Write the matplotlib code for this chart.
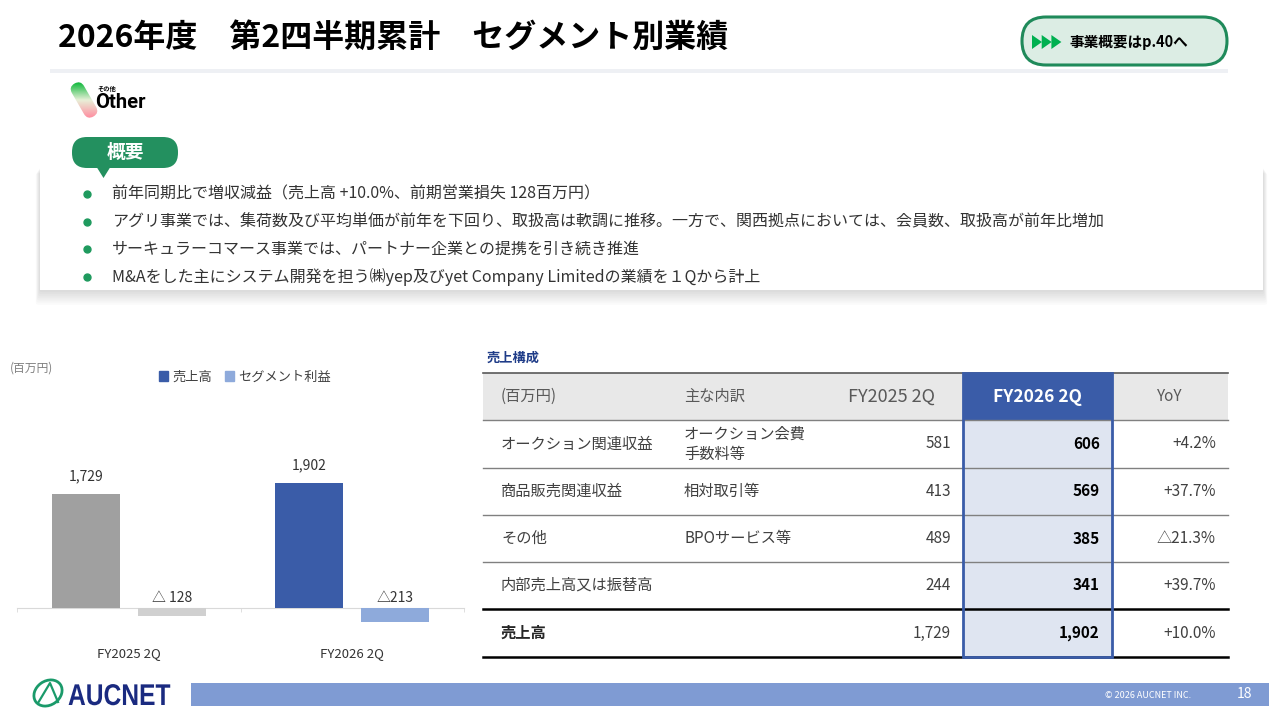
import matplotlib
matplotlib.use("Agg")
import matplotlib.pyplot as plt
import numpy as np
from matplotlib.patches import FancyBboxPatch, Rectangle, Polygon, Ellipse, Patch, PathPatch
from matplotlib.transforms import Affine2D
from matplotlib.textpath import TextPath
from matplotlib.font_manager import FontProperties

plt.rcParams['font.family'] = ['Noto Sans CJK JP', 'DejaVu Sans']

# ---- data ----
periods = ["FY2025 2Q", "FY2026 2Q"]
sales = [1729, 1902]
profit = [-128, -213]
profit_labels = ["△ 128", "△213"]
sales_colors = ["#a0a0a0", "#3a5ca8"]
profit_colors = ["#d0d0d0", "#8eaadb"]

bullets = [
    "前年同期比で増収減益（売上高 +10.0%、前期営業損失 128百万円）",
    "アグリ事業では、集荷数及び平均単価が前年を下回り、取扱高は軟調に推移。一方で、関西拠点においては、会員数、取扱高が前年比増加",
    "サーキュラーコマース事業では、パートナー企業との提携を引き続き推進",
    "M&Aをした主にシステム開発を担う㈱yep及びyet Company Limitedの業績を１Qから計上",
]

tbl_header = ["(百万円)", "主な内訳", "FY2025 2Q", "FY2026 2Q", "YoY"]
tbl_items = ["オークション関連収益", "商品販売関連収益", "その他", "内部売上高又は振替高", "売上高"]
tbl_detail = ["オークション会費\n手数料等", "相対取引等", "BPOサービス等", "", ""]
tbl_fy25 = [581, 413, 489, 244, 1729]
tbl_fy26 = [606, 569, 385, 341, 1902]
tbl_yoy = ["+4.2%", "+37.7%", "△21.3%", "+39.7%", "+10.0%"]

GREEN = "#23905f"
BLUE = "#3a5ca8"
TXT = "#404040"

fig = plt.figure(figsize=(12.8, 7.2), dpi=100)

# overlay in pixel coordinates
ov = fig.add_axes([0, 0, 1, 1])
ov.axis('off')

# title
ov.text(58, 38, "2026年度　第2四半期累計　セグメント別業績", fontsize=23, weight='bold',
        va='center', ha='left', color='black')
ov.add_patch(Rectangle((50, 69), 1178, 4, color="#eef0f4", lw=0))

# link button
ov.add_patch(FancyBboxPatch((1022, 17), 205, 48, boxstyle="round,pad=0,rounding_size=24",
                            fc="#dcede4", ec="#1f8a5a", lw=2.2))
for i in range(3):
    x0 = 1032 + i * 9.7
    ov.add_patch(Polygon([(x0, 35), (x0, 49), (x0 + 10, 42)], closed=True, fc="#00b050", ec='none'))
ov.text(1069, 42, "事業概要はp.40へ", fontsize=10.5, weight='bold', va='center', ha='left')

# "Other" logo with gradient pill
grad = np.linspace(0, 1, 64)[:, None]
cmap = matplotlib.colors.LinearSegmentedColormap.from_list("g", ["#0db83a", "#e8f0d8", "#ff8da0"])
img = ov.imshow(np.repeat(grad, 4, axis=1), cmap=cmap, extent=(64, 104, 118, 82),
                aspect='auto', origin='upper', zorder=2)
pill = FancyBboxPatch((-7, -19), 14, 38, boxstyle="round,pad=0,rounding_size=7",
                      transform=Affine2D().rotate_deg(-30).translate(84, 100) + ov.transData,
                      fc='none', ec='none')
ov.add_patch(pill)
img.set_clip_path(pill)
ov.text(97, 89, "その他", fontsize=4.5, weight='bold', va='center', ha='left')
ov.text(95, 103, "Other", fontsize=14.5, weight='bold', va='center', ha='left',
        family=['Roboto', 'DejaVu Sans'])

ov.set_xlim(0, 1280)
ov.set_ylim(720, 0)

# bullet box with shadow
for i in range(8):
    ov.add_patch(FancyBboxPatch((40 - i * 0.6, 167 + i * 0.9), 1223 + i * 1.2, 123 + i * 1.2,
                                boxstyle="round,pad=0,rounding_size=2",
                                fc="black", ec='none', alpha=0.02, zorder=1))
ov.add_patch(Rectangle((40, 167), 1223, 123, fc="white", ec="none", zorder=1.5))
for i, line in enumerate(bullets):
    y = 194 + i * 27.7
    ov.plot(87, y, 'o', ms=5, color="#1f9a5e", zorder=3)
    ov.text(112, y, line, fontsize=11.5, color="#333333", va='center', ha='left', zorder=3)

# 概要 badge
ov.add_patch(FancyBboxPatch((72, 137), 106, 31, boxstyle="round,pad=0,rounding_size=15",
                            fc=GREEN, ec='none', zorder=4))
ov.add_patch(Polygon([(96, 166), (111, 166), (103.5, 178)], closed=True, fc=GREEN, ec='none', zorder=4))
ov.text(125, 152, "概要", fontsize=13.5, weight='bold', color='white', va='center', ha='center', zorder=5)

# chart unit
ov.text(10, 368, "(百万円)", fontsize=8.5, color="#7f7f7f", va='center', ha='left')

# ---- table ----
rows_y = [373, 420, 468, 515, 562, 609, 657]
tx0, tx1 = 483, 1228
hx0, hx1 = 963, 1112
ov.text(487, 358, "売上構成", fontsize=9.5, weight='bold', color="#1f3c88", va='center', ha='left')
ov.add_patch(Rectangle((tx0, rows_y[0]), tx1 - tx0, rows_y[1] - rows_y[0], fc="#e8e8e8", ec='none'))
ov.add_patch(Rectangle((hx0, rows_y[0]), hx1 - hx0, rows_y[1] - rows_y[0], fc=BLUE, ec='none'))
ov.add_patch(Rectangle((hx0, rows_y[1]), hx1 - hx0, rows_y[-1] - rows_y[1], fc="#dfe5f1", ec='none'))

ov.plot([tx0, tx1], [rows_y[0], rows_y[0]], color="#595959", lw=1.2)
for y in rows_y[1:5]:
    ov.plot([tx0, tx1], [y, y], color="#808080", lw=1.0)
for y in rows_y[5:]:
    ov.plot([tx0, tx1], [y, y], color="black", lw=1.8)
ov.add_patch(Rectangle((hx0, rows_y[0]), hx1 - hx0, rows_y[-1] - rows_y[0], fc='none', ec=BLUE, lw=2, zorder=3))

hy = (rows_y[0] + rows_y[1]) / 2
ov.text(501, hy, tbl_header[0], fontsize=11, color="#595959", va='center', ha='left')
ov.text(684, hy, tbl_header[1], fontsize=11, color="#595959", va='center', ha='left')
ov.text(892, hy, tbl_header[2], fontsize=13, color="#595959", va='center', ha='center')
ov.text((hx0 + hx1) / 2, hy, tbl_header[3], fontsize=12.5, weight='bold', color="white", va='center', ha='center', zorder=4)
ov.text(1170, hy, tbl_header[4], fontsize=11, color="#595959", va='center', ha='center')

for i in range(len(tbl_items)):
    y = (rows_y[i + 1] + rows_y[i + 2]) / 2
    last = i == len(tbl_items) - 1
    ov.text(501, y, tbl_items[i], fontsize=11, color="#262626" if last else TXT,
            weight='bold' if last else 'normal', va='center', ha='left')
    if tbl_detail[i]:
        ov.text(684, y, tbl_detail[i], fontsize=11, color=TXT, va='center', ha='left', linespacing=1.25)
    ov.text(951, y, f"{tbl_fy25[i]:,}", fontsize=11, color=TXT, va='center', ha='right')
    ov.text(1100, y, f"{tbl_fy26[i]:,}", fontsize=11, weight='bold', color="black", va='center', ha='right', zorder=4)
    ov.text(1216, y, tbl_yoy[i], fontsize=11, color=TXT, va='center', ha='right')

# ---- footer ----
ov.add_patch(Ellipse((48, 693), 30, 24, angle=-35, fc='none', ec="#1a9a6a", lw=2))
ov.plot([38, 50, 58], [703, 683, 702], color="#1a9a6a", lw=1.6)
logo = TextPath((0, 0), "AUCNET", size=30,
                prop=FontProperties(family=['Liberation Sans', 'DejaVu Sans'], weight='bold'))
ov.add_patch(PathPatch(logo, fc="#1a2a80", ec='none',
                       transform=Affine2D().scale(0.82, -1).translate(68, 705) + ov.transData))
ov.add_patch(Rectangle((191, 683), 1078, 23, fc="#7f9bd3", ec='none'))
ov.text(1148, 696, "© 2026 AUCNET INC.", fontsize=6.5, color="white", va='center', ha='center')
ov.text(1245, 694, "18", fontsize=10, color="white", va='center', ha='center')

# ---- bar chart ----
ax = fig.add_axes([17 / 1280, 1 - 630 / 720, 447 / 1280, 250 / 720])
ax.patch.set_alpha(0)
x = np.arange(len(periods))
w = 0.304
off = 0.192
ax.bar(x - off, sales, w, color=sales_colors, zorder=2)
ax.bar(x + off, profit, w, color=profit_colors, zorder=2)
ax.set_xlim(-0.5, 1.5)
ax.set_ylim(-334, 3458)

for xi, v in zip(x, sales):
    ax.annotate(f"{v:,}", (xi - off, v), xytext=(0, 12.5), textcoords='offset points',
                ha='center', va='center', fontsize=10, color="#333333")
for xi, lab in zip(x, profit_labels):
    ax.annotate(lab, (xi + off, 0), xytext=(0, 7), textcoords='offset points',
                ha='center', va='center', fontsize=10, color="#333333")

for s in ['top', 'right', 'left']:
    ax.spines[s].set_visible(False)
ax.spines['bottom'].set_position(('data', 0))
ax.spines['bottom'].set_color("#d9d9d9")
ax.spines['bottom'].set_zorder(1)
ax.set_yticks([])
ax.set_xticks(x)
ax.set_xticklabels(periods, fontsize=9.5, color="#333333")
ax.set_xticks([-0.5, 0.5, 1.5], minor=True)
ax.tick_params(axis='x', which='major', length=0, pad=28)
ax.tick_params(axis='x', which='minor', length=3, color="#d9d9d9")

handles = [Patch(color=BLUE, label="売上高"), Patch(color="#8eaadb", label="セグメント利益")]
leg = fig.legend(handles=handles, loc='center', bbox_to_anchor=(245 / 1280, 1 - 377 / 720),
                 ncol=2, frameon=False, fontsize=9.5, handlelength=0.7, handleheight=0.7,
                 handletextpad=0.3, columnspacing=1.0)
for t in leg.get_texts():
    t.set_color(TXT)

fig.savefig("out.png", dpi=100)
